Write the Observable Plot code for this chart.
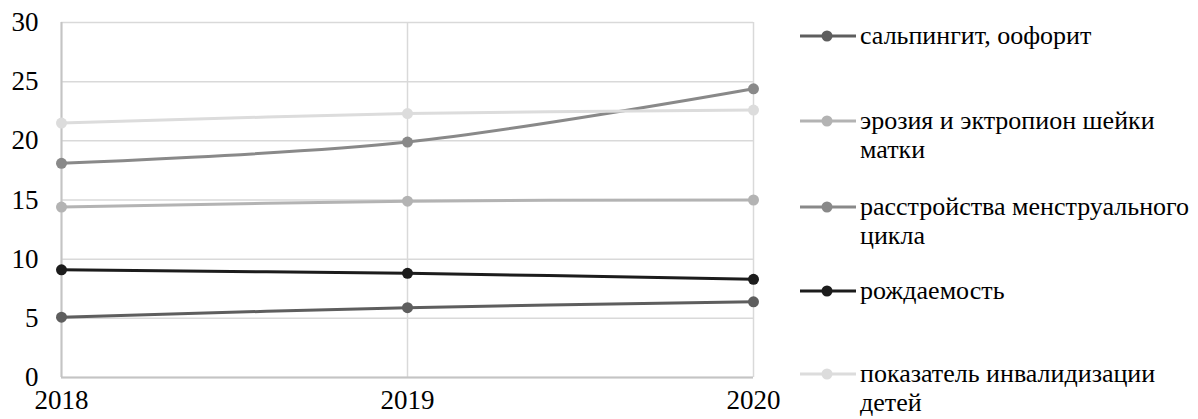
<!DOCTYPE html>
<html><head><meta charset="utf-8">
<script src="https://cdn.jsdelivr.net/npm/d3@7"></script>
<script src="https://cdn.jsdelivr.net/npm/@observablehq/plot@0.6"></script>
<style>
body{margin:0;background:#fff;}
#wrap{position:relative;width:1198px;height:419px;overflow:hidden;font-family:'Liberation Serif';}
.item{position:absolute;left:800px;}
.item svg{position:absolute;left:0;top:0;}
.item .lbl{position:absolute;left:60px;top:0;width:338px;font-size:26px;line-height:29px;color:#000;font-family:'Liberation Serif';}
</style>
</head><body>
<div id="wrap"></div>
<script>
const years = [2018, 2019, 2020];
const seriesNames = [
  "сальпингит, оофорит",
  "эрозия и эктропион шейки матки",
  "расстройства менструального цикла",
  "рождаемость",
  "показатель инвалидизации детей"
];
const salpingitis = [5.1, 5.9, 6.4];
const erosion = [14.4, 14.9, 15.0];
const menstrual = [18.1, 19.9, 24.4];
const birthRate = [9.1, 8.8, 8.3];
const childDisability = [21.5, 22.3, 22.6];
const yTicks = [0, 5, 10, 15, 20, 25, 30];
const seriesColors = ["#5e5e5e", "#b3b3b3", "#898989", "#1c1c1c", "#dcdcdc"];

const allValues = [salpingitis, erosion, menstrual, birthRate, childDisability];
const rows = [];
seriesNames.forEach((name, i) => years.forEach((yr, j) => rows.push({series: name, year: yr, value: allValues[i][j], idx: i})));

const FONT = "Liberation Serif";
const lineMarks = seriesNames.flatMap((name, i) => {
  const d = rows.filter(r => r.idx === i);
  return [
    Plot.line(d, {x: "year", y: "value", stroke: seriesColors[i], strokeWidth: 3, curve: "catmull-rom"}),
    Plot.dot(d, {x: "year", y: "value", fill: seriesColors[i], r: 5.5, stroke: "none"})
  ];
});

const chart = Plot.plot({
  width: 1198,
  height: 419,
  marginLeft: 61,
  marginRight: 445,
  marginTop: 22,
  marginBottom: 42,
  style: `font-family: 'Liberation Serif'; font-size: 27px; color: #000; background: #fff;`,
  x: {domain: [2018, 2020], ticks: years, tickFormat: d => String(d), tickSize: 0, tickPadding: 14, label: null},
  y: {domain: [0, 30], ticks: yTicks, tickSize: 0, tickPadding: 23, label: null},
  marks: [
    Plot.gridY(yTicks, {stroke: "#d9d9d9", strokeOpacity: 1, strokeWidth: 1.5}),
    Plot.gridX(years, {stroke: "#d9d9d9", strokeOpacity: 1, strokeWidth: 1.5}),
    Plot.ruleY([0], {stroke: "#c4c4c4", strokeWidth: 2}),
    Plot.ruleX([2018], {stroke: "#c4c4c4", strokeWidth: 2}),
    Plot.axisX(years, {tickSize: 0, tickPadding: 12, tickFormat: d => String(d), fontSize: 27, fill: "#000", fontFamily: FONT}),
    Plot.axisY(yTicks, {tickSize: 0, tickPadding: 23, fontSize: 27, fill: "#000", fontFamily: FONT}),
    ...lineMarks
  ]
});
const wrap = document.getElementById("wrap");
wrap.appendChild(chart);

const legendTops = [21, 106, 192, 276, 359];
seriesNames.forEach((name, i) => {
  const item = document.createElement("div");
  item.className = "item";
  item.style.top = legendTops[i] + "px";
  item.innerHTML = `<svg width="58" height="30"><line x1="0" x2="56" y1="15" y2="15" stroke="${seriesColors[i]}" stroke-width="3"/><circle cx="27" cy="15" r="5.5" fill="${seriesColors[i]}"/></svg><div class="lbl">${name}</div>`;
  wrap.appendChild(item);
});
</script>
</body></html>
